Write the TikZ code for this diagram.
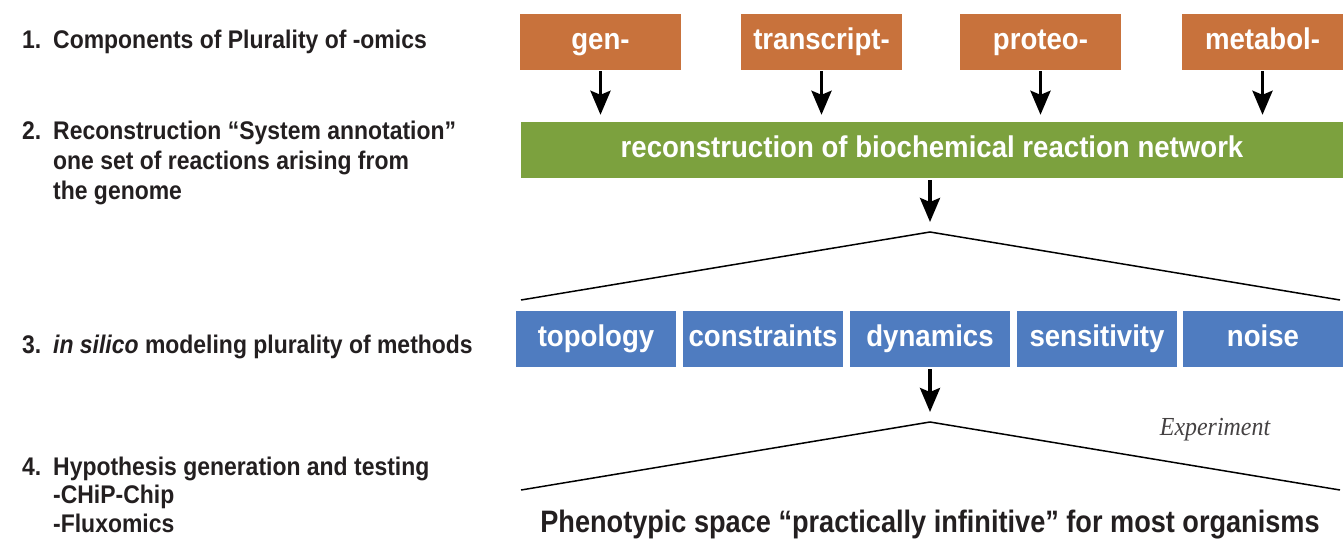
\documentclass[tikz,border=0pt]{standalone}
\usepackage{fontspec}
\setmainfont[FakeStretch=0.9]{Liberation Sans}
\newfontfamily\boxfont[FakeStretch=0.92]{Liberation Sans}
\newfontfamily\phenofont[FakeStretch=0.875]{Liberation Sans}
\newfontfamily\expfont[FakeStretch=0.92]{Liberation Serif}
\usetikzlibrary{arrows.meta}
\definecolor{omicorange}{RGB}{200,114,60}
\definecolor{recgreen}{RGB}{124,161,62}
\definecolor{methblue}{RGB}{79,124,192}
\definecolor{darktext}{RGB}{35,31,32}
\tikzset{
  leftlbl/.style={anchor=base west, inner sep=0pt, text=darktext, font=\fontsize{25.5}{28}\selectfont\bfseries},
  boxbase/.style={rectangle, inner sep=0pt, minimum height=56pt, text height=20pt, text depth=6pt, text=white, font=\boxfont\fontsize{30}{34}\selectfont\bfseries},
  omicbox/.style={boxbase, fill=omicorange, minimum width=161pt},
  recbox/.style={boxbase, fill=recgreen, minimum width=822pt},
  methbox/.style={boxbase, fill=methblue, minimum width=160pt},
  bigarrow/.style={line width=3.5pt, -{Stealth[length=24pt, width=20pt, inset=4pt]}},
  fanline/.style={line width=1.5pt, black},
}
\begin{document}
\begin{tikzpicture}[x=1pt, y=-1pt]
\useasboundingbox (0,0) rectangle (1343,544);

% left labels
\node[leftlbl] (n1) at (22,48) {1.};
\node[leftlbl] (t1) at (53,48) {Components of Plurality of -omics};
\node[leftlbl] (n2) at (22,139) {2.};
\node[leftlbl] (t2a) at (53,139) {Reconstruction “System annotation”};
\node[leftlbl] (t2b) at (53,169) {one set of reactions arising from};
\node[leftlbl] (t2c) at (53,199) {the genome};
\node[leftlbl] (n3) at (22,353) {3.};
\node[leftlbl] (t3) at (53,353) {\itshape in silico\upshape{} modeling plurality of methods};
\node[leftlbl] (n4) at (22,475) {4.};
\node[leftlbl] (t4a) at (53,475) {Hypothesis generation and testing};
\node[leftlbl] (t4b) at (53,503) {-CHiP-Chip};
\node[leftlbl] (t4c) at (53,532) {-Fluxomics};

% omics boxes
\node[omicbox] (gen) at (600.5,42) {gen-};
\node[omicbox] (transcript) at (821.5,42) {transcript-};
\node[omicbox] (proteo) at (1040.5,42) {proteo-};
\node[omicbox] (metabol) at (1262.5,42) {metabol-};

% reconstruction
\node[recbox] (rec) at (932,150) {reconstruction of biochemical reaction network};

\foreach \b in {gen,transcript,proteo,metabol}{
  \draw[bigarrow, shorten <=1pt, shorten >=7pt] (\b.south) -- (\b.south |- rec.north);
}

% first fan
\coordinate (apexA) at (930,232);
\coordinate (leftA) at (521,300);
\coordinate (rightA) at (1340,300);
\draw[bigarrow, shorten <=2pt, shorten >=10pt] (rec.south -| apexA) -- (apexA);
\draw[fanline] (leftA) -- (apexA) -- (rightA);

% methods
\node[methbox] (topology) at (596,339) {topology};
\node[methbox] (constraints) at (763,339) {constraints};
\node[methbox] (dynamics) at (930,339) {dynamics};
\node[methbox] (sensitivity) at (1097,339) {sensitivity};
\node[methbox] (noise) at (1263,339) {noise};

% second fan
\coordinate (apexB) at (930,422);
\coordinate (leftB) at (521,490);
\coordinate (rightB) at (1340,490);
\draw[bigarrow, shorten <=2pt, shorten >=10pt] (dynamics.south) -- (apexB);
\draw[fanline] (leftB) -- (apexB) -- (rightB);

\node[anchor=base, inner sep=0pt, text=darktext!85, font=\expfont\itshape\fontsize{26}{28}\selectfont] (exp) at (1215,435) {Experiment};

\node[anchor=base, inner sep=0pt, text=darktext, font=\phenofont\fontsize{31}{34}\selectfont\bfseries] (pheno) at (930,532) {Phenotypic space “practically infinitive” for most organisms};
\end{tikzpicture}
\end{document}
